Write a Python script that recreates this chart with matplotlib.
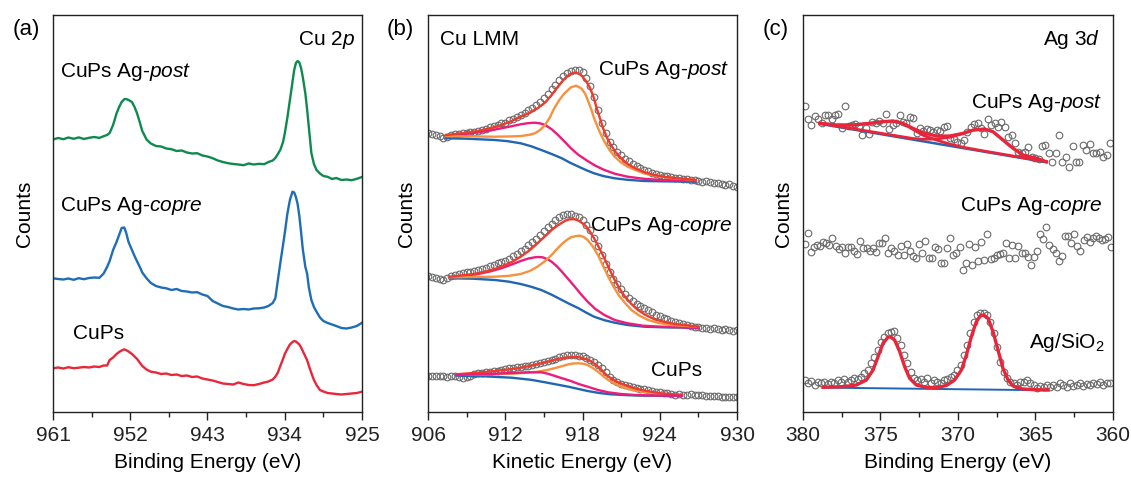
import numpy as np
import matplotlib
matplotlib.use('Agg')
import matplotlib.pyplot as plt

plt.rcParams['font.family'] = 'Liberation Sans'
plt.rcParams['mathtext.fontset'] = 'custom'
plt.rcParams['mathtext.rm'] = 'Liberation Sans'
plt.rcParams['mathtext.it'] = 'Liberation Sans:italic'

# ---- (a) Cu 2p, stacked spectra (arb. counts incl. offset) ----
be_cu = [961.0, 960.4, 959.8, 959.2, 958.6, 958.0, 957.4, 956.8, 956.2, 955.6,
         955.1, 954.7, 954.4, 954.0, 953.6, 953.3, 953.0, 952.7, 952.5, 952.2,
         951.8, 951.5, 951.2, 950.9, 950.6, 950.1, 949.6, 949.0, 948.4, 947.8,
         947.2, 946.6, 946.0, 945.4, 944.8, 944.2, 943.6, 943.0, 942.4, 941.8,
         941.2, 940.6, 940.0, 939.4, 938.8, 938.2, 937.6, 937.0, 936.4, 935.9,
         935.4, 935.1, 934.8, 934.5, 934.2, 934.0, 933.7, 933.4, 933.1, 932.9,
         932.7, 932.5, 932.3, 932.1, 931.9, 931.6, 931.4, 931.2, 930.9, 930.6,
         930.3, 929.9, 929.5, 929.0, 928.5, 928.0, 927.4, 926.8, 926.2, 925.6,
         925.0]
cu2p_post = [272.5, 274.0, 272.8, 274.5, 273.2, 274.6, 273.0, 274.2, 275.0, 274.1,
             275.8, 277.0, 279.0, 287.0, 298.5, 305.0, 310.0, 312.8, 313.0, 312.0,
             310.0, 305.0, 298.5, 290.0, 281.0, 272.5, 268.5, 266.0, 265.5, 263.5,
             262.8, 261.0, 261.5, 259.5, 258.5, 258.8, 256.5, 255.5, 253.8, 251.5,
             250.0, 248.8, 248.0, 247.5, 246.8, 248.5, 247.5, 248.2, 247.8, 250.0,
             251.5, 254.0, 258.0, 262.5, 270.0, 278.5, 294.0, 312.0, 330.0, 342.0,
             349.0, 351.0, 349.5, 344.0, 335.0, 318.5, 303.0, 285.5, 259.0, 248.0,
             242.0, 238.5, 236.0, 235.2, 233.0, 234.0, 232.0, 232.5, 231.8, 233.2,
             235.0]
cu2p_copre = [133.7, 133.0, 132.5, 133.5, 132.2, 133.8, 132.8, 134.0, 134.5, 134.2,
              138.5, 145.0, 151.0, 162.0, 170.0, 177.0, 184.0, 184.5, 180.0, 170.0,
              162.0, 156.0, 150.5, 145.3, 139.5, 133.7, 129.0, 126.0, 124.5, 123.7,
              122.0, 123.0, 121.0, 120.5, 119.5, 119.8, 117.5, 116.0, 111.0, 108.5,
              106.0, 105.0, 103.5, 102.5, 103.0, 102.5, 103.5, 103.7, 104.5, 106.0,
              109.0, 113.7, 132.0, 150.0, 167.0, 178.7, 198.0, 212.0, 220.3, 219.5,
              215.0, 208.0, 196.0, 180.0, 163.0, 145.0, 138.7, 125.0, 112.0, 105.0,
              100.3, 94.5, 91.0, 89.0, 87.5, 86.0, 84.0, 83.5, 84.5, 86.0,
              89.3]
cu2p_cups = [43.7, 44.5, 43.5, 44.8, 43.8, 44.3, 45.0, 44.5, 45.5, 45.0,
             46.5, 46.5, 52.0, 54.5, 58.0, 60.0, 61.5, 62.7, 62.0, 60.5,
             58.0, 55.5, 53.0, 49.5, 46.0, 42.5, 40.3, 39.5, 38.0, 38.5,
             37.0, 37.5, 36.0, 36.5, 35.0, 35.5, 33.5, 32.5, 31.5, 30.0,
             28.5, 28.0, 27.5, 29.5, 28.0, 27.0, 26.8, 28.0, 29.5, 30.5,
             32.5, 35.3, 39.5, 46.5, 53.0, 58.0, 63.0, 67.5, 70.0, 71.0,
             70.5, 69.0, 67.5, 64.5, 61.0, 55.5, 52.0, 46.5, 39.0, 32.0,
             27.0, 22.0, 20.5, 19.0, 18.5, 18.0, 17.5, 18.0, 18.5, 19.0,
             20.3]

# ---- (b) Cu LMM, raw data on a 0.3 eV kinetic energy grid ----
lmm_post = [279.5, 278.5, 277.0, 276.5, 274.5, 275.5, 277.0, 278.5, 278.0, 279.5,
            279.0, 280.5, 280.0, 281.5, 282.5, 283.5, 285.5, 286.0, 287.5, 289.0,
            289.5, 292.0, 293.5, 295.0, 297.5, 299.5, 302.0, 304.5, 307.0, 310.0,
            314.0, 318.5, 323.0, 327.5, 332.0, 336.0, 339.0, 341.0, 342.5, 342.0,
            340.0, 334.5, 326.0, 315.0, 302.0, 289.0, 279.0, 270.5, 265.0, 260.5,
            257.0, 253.5, 251.0, 248.5, 246.5, 244.0, 242.5, 241.0, 239.0, 238.5,
            237.5, 236.0, 236.5, 235.0, 234.5, 234.0, 233.0, 233.5, 232.5, 232.0,
            231.5, 230.5, 231.0, 230.0, 229.5, 229.0, 228.5, 227.5, 228.0, 226.0,
            225.5]
lmm_copre = [136.0, 135.0, 134.5, 133.0, 132.0, 134.5, 136.0, 137.0, 138.5, 139.0,
             140.0, 140.5, 141.5, 142.5, 143.0, 144.5, 146.0, 147.5, 149.0, 150.0,
             151.5, 153.5, 156.0, 158.5, 161.0, 163.5, 167.0, 170.0, 173.5, 177.5,
             181.5, 185.0, 188.5, 192.0, 195.0, 197.0, 198.5, 198.0, 196.5, 195.5,
             192.0, 187.5, 182.0, 174.5, 166.0, 157.0, 148.5, 140.5, 133.5, 128.5,
             123.5, 118.5, 114.5, 111.0, 108.0, 106.0, 104.0, 102.0, 100.0, 97.5,
             96.0, 94.5, 93.0, 91.5, 90.5, 89.0, 88.0, 87.5, 86.0, 85.5,
             85.0, 84.5, 84.0, 83.5, 84.0, 83.0, 82.5, 83.0, 82.0, 81.5,
             82.0]
lmm_cups = [36.5, 36.0, 36.5, 36.0, 36.5, 35.5, 36.0, 36.0, 35.5, 34.5,
            35.5, 36.5, 38.0, 39.0, 39.5, 40.0, 40.5, 41.0, 41.5, 42.5,
            43.0, 44.0, 44.5, 45.0, 45.5, 46.0, 46.5, 47.5, 48.0, 49.0,
            50.0, 51.0, 52.5, 53.5, 55.0, 56.0, 57.0, 57.5, 57.0, 56.5,
            56.0, 54.5, 52.5, 50.5, 47.5, 44.0, 40.0, 35.0, 32.0, 30.0,
            28.5, 27.5, 26.0, 25.0, 24.0, 23.5, 23.0, 22.0, 21.5, 20.5,
            20.0, 19.5, 19.0, 18.0, 17.5, 18.0, 17.5, 17.5, 18.0, 17.0,
            17.0, 17.5, 16.5, 16.0, 16.5, 16.0, 15.5, 15.0, 15.5, 15.0,
            15.5]
ke = np.linspace(906, 930, len(lmm_post))

# fitted curves: (energy, counts) pairs
post_bg_x = [907.4, 909.0, 911.2, 912.2, 913.2, 914.0, 914.8, 915.6, 916.4, 917.0,
             917.7, 918.3, 918.9, 919.6, 920.5, 921.5, 922.8, 924.5, 926.8]
post_bg_y = [273.7, 273.3, 272.0, 270.8, 268.7, 265.8, 262.0, 258.0, 253.7, 249.5,
             245.3, 241.8, 238.7, 236.0, 233.7, 232.2, 231.0, 230.6, 230.3]
post_cu1_x = [907.4, 908.7, 909.9, 910.8, 911.7, 912.5, 913.2, 913.8, 914.3, 914.7,
              915.1, 915.6, 916.1, 916.6, 917.1, 917.7, 918.4, 919.0, 919.7, 920.5,
              921.5, 922.7, 924.1, 926.8]
post_cu1_y = [276.0, 277.5, 279.7, 281.5, 283.7, 285.8, 287.7, 288.9, 289.3, 288.7,
              287.0, 282.8, 277.0, 270.5, 263.7, 257.0, 251.0, 246.3, 242.0, 238.3,
              235.3, 233.3, 232.0, 231.0]
post_cu0_x = [907.4, 909.5, 911.2, 912.5, 913.2, 913.8, 914.3, 914.7, 915.1, 915.5,
              915.8, 916.2, 916.6, 917.1, 917.5, 917.9, 918.2, 918.4, 918.7, 918.9,
              919.3, 919.7, 920.1, 920.5, 921.0, 921.5, 922.2, 922.8, 923.7, 924.6,
              926.8]
post_cu0_y = [276.0, 275.6, 275.3, 275.6, 276.0, 277.0, 278.7, 282.0, 287.0, 295.5,
              303.7, 312.0, 318.7, 324.7, 326.3, 323.7, 318.5, 312.0, 302.0, 293.7,
              281.0, 270.3, 262.0, 255.3, 249.5, 245.3, 241.5, 238.7, 236.2, 234.3,
              232.0]
post_env_x = [907.4, 908.7, 909.9, 910.8, 911.7, 912.5, 913.2, 913.9, 914.5, 915.1,
              915.6, 916.0, 916.4, 916.7, 917.0, 917.3, 917.5, 917.8, 918.0, 918.3,
              918.6, 918.9, 919.1, 919.4, 919.6, 919.9, 920.2, 920.6, 921.0, 921.5,
              922.1, 922.8, 923.6, 924.5, 925.4, 926.8]
post_env_y = [277.0, 278.8, 281.0, 283.7, 287.0, 291.0, 295.3, 299.3, 303.7, 309.5,
              317.0, 323.8, 330.3, 334.5, 337.7, 339.2, 339.3, 337.8, 335.3, 330.5,
              323.7, 313.5, 303.7, 292.0, 283.7, 274.5, 267.0, 259.5, 253.7, 248.0,
              243.7, 239.8, 237.0, 235.0, 233.7, 232.0]

copre_bg_x = [907.7, 909.5, 911.2, 912.3, 913.2, 914.0, 914.8, 915.6, 916.4, 917.0,
              917.7, 918.3, 918.9, 919.7, 920.5, 921.5, 922.8, 924.5, 927.0]
copre_bg_y = [133.7, 133.3, 132.0, 130.3, 128.0, 125.3, 122.0, 117.3, 112.0, 108.0,
              103.7, 99.3, 95.3, 91.8, 89.3, 87.0, 85.3, 84.6, 84.3]
copre_cu1_x = [907.7, 908.8, 909.9, 910.8, 911.7, 912.5, 913.2, 913.8, 914.3, 914.6,
               914.9, 915.3, 915.6, 916.0, 916.4, 916.9, 917.4, 917.9, 918.4, 919.0,
               919.7, 920.5, 921.5, 922.7, 924.1, 927.0]
copre_cu1_y = [134.7, 136.0, 138.0, 140.5, 143.7, 147.5, 151.0, 153.5, 154.7, 155.0,
               154.7, 152.8, 150.3, 145.8, 140.3, 132.8, 125.3, 117.5, 110.3, 103.0,
               97.0, 92.0, 88.7, 86.3, 85.3, 84.3]
copre_cu0_x = [907.7, 909.5, 911.2, 912.3, 913.2, 913.9, 914.5, 915.1, 915.6, 916.0,
               916.4, 916.8, 917.1, 917.5, 917.8, 918.1, 918.4, 918.8, 919.2, 919.6,
               920.0, 920.4, 920.8, 921.3, 921.8, 922.4, 923.1, 923.9, 924.9, 927.0]
copre_cu0_y = [134.7, 135.0, 135.3, 136.2, 138.0, 141.0, 145.3, 151.0, 157.0, 162.8,
               168.0, 172.3, 174.7, 176.0, 176.3, 175.0, 172.0, 165.5, 157.0, 146.0,
               135.3, 125.5, 117.0, 109.0, 102.0, 96.5, 92.0, 89.0, 87.0, 85.3]
copre_env_x = [907.7, 908.8, 909.9, 910.8, 911.7, 912.5, 913.2, 913.9, 914.5, 915.1,
               915.6, 916.0, 916.4, 916.7, 917.0, 917.4, 917.7, 918.0, 918.3, 918.6,
               918.9, 919.3, 919.7, 920.1, 920.5, 920.9, 921.3, 921.8, 922.3, 922.9,
               923.6, 924.4, 925.2, 927.0]
copre_env_y = [135.3, 136.8, 138.7, 141.5, 145.3, 150.0, 155.3, 161.8, 168.7, 175.8,
               182.0, 186.0, 189.3, 191.5, 192.7, 192.8, 191.3, 188.8, 185.3, 180.0,
               173.7, 164.0, 153.7, 142.5, 132.0, 123.0, 115.3, 108.0, 102.0, 97.0,
               92.7, 90.0, 88.0, 85.3]

cups_bg_x = [908.2, 910.5, 912.5, 914.0, 915.1, 916.0, 916.9, 917.7, 918.4, 919.3,
             920.2, 921.5, 922.8, 925.7]
cups_bg_y = [36.3, 35.6, 34.3, 32.2, 29.7, 27.5, 25.3, 23.0, 21.0, 19.0,
             17.7, 16.8, 16.3, 16.3]
cups_cu1_x = [908.2, 911.2, 913.0, 913.8, 914.8, 915.3, 915.8, 916.4, 917.1, 917.7,
              918.4, 919.2, 920.0, 921.0, 922.1, 923.5, 925.7]
cups_cu1_y = [37.0, 38.3, 39.3, 39.7, 39.7, 38.3, 36.3, 33.8, 31.0, 28.0,
              25.3, 22.0, 19.7, 18.0, 17.0, 16.5, 16.3]
cups_cu0_x = [908.2, 910.5, 912.5, 913.6, 914.5, 915.2, 915.8, 916.4, 916.9, 917.3,
              917.7, 918.1, 918.4, 918.8, 919.2, 919.6, 920.0, 920.5, 921.0, 921.8,
              922.6, 923.3, 924.1, 925.7]
cups_cu0_y = [37.0, 37.6, 38.3, 39.2, 40.3, 41.8, 43.7, 45.8, 47.7, 48.5,
              48.7, 48.2, 47.0, 44.0, 40.3, 36.0, 32.0, 28.5, 25.3, 22.3,
              20.3, 19.0, 18.0, 17.0]
cups_env_x = [908.2, 909.8, 911.2, 912.3, 913.2, 914.0, 914.8, 915.5, 916.1, 916.6,
              917.1, 917.5, 917.9, 918.3, 918.7, 919.1, 919.5, 919.8, 920.2, 920.7,
              921.3, 921.9, 922.6, 923.3, 924.1, 925.7]
cups_env_y = [37.7, 39.3, 41.0, 42.7, 44.3, 46.3, 48.7, 51.0, 53.0, 54.3,
              55.0, 55.0, 54.3, 52.8, 50.3, 46.5, 42.0, 37.8, 33.7, 30.0,
              27.0, 24.3, 22.0, 20.3, 18.7, 17.0]

# ---- (c) Ag 3d ----
ag_post = [306.0, 292.7, 287.0, 296.0, 292.7, 288.7, 297.0, 297.0, 292.7, 297.0,
           298.0, 283.7, 306.0, 286.0, 287.0, 287.7, 286.0, 277.0, 283.7, 278.0,
           290.3, 288.7, 291.3, 289.3, 298.0, 282.7, 287.0, 288.7, 297.0, 290.3,
           288.7, 295.3, 293.7, 279.3, 283.7, 281.3, 282.7, 282.0, 280.3, 282.0,
           281.3, 284.7, 286.0, 273.7, 272.7, 270.3, 269.3, 272.0, 280.3, 284.7,
           288.0, 289.3, 283.7, 278.0, 292.7, 287.0, 288.7, 285.3, 290.3, 285.3,
           275.3, 277.0, 269.3, 260.3, 258.7, 260.3, 265.3, 255.3, 253.7, 252.7,
           266.0, 267.0, 258.7, 250.3, 259.3, 277.0, 250.3, 255.3, 245.3, 266.0,
           250.3, 250.3, 267.0, 262.0, 268.0, 258.7, 259.3, 260.3, 255.3, 257.0,
           269.3]
ag_copre = [168.0, 179.3, 160.3, 164.7, 167.0, 166.0, 170.3, 169.3, 167.0, 173.7,
            166.0, 162.7, 165.3, 159.3, 165.3, 165.3, 161.3, 158.0, 171.3, 163.7,
            163.7, 161.3, 163.7, 160.3, 169.3, 169.3, 173.7, 158.7, 163.7, 161.3,
            157.0, 166.0, 157.0, 168.0, 161.3, 156.0, 153.7, 168.0, 158.7, 171.3,
            153.7, 153.7, 165.3, 162.7, 149.3, 149.3, 163.7, 173.7, 157.0, 159.3,
            165.3, 142.0, 149.3, 168.0, 147.0, 165.3, 151.3, 170.3, 152.0, 178.0,
            152.7, 153.7, 157.0, 158.0, 158.7, 169.3, 153.7, 167.0, 153.7, 166.0,
            158.7, 158.7, 155.3, 147.0, 154.7, 161.3, 178.0, 172.7, 185.3, 167.0,
            162.7, 158.7, 151.3, 156.0, 176.0, 176.0, 168.7, 178.0, 166.0, 161.3,
            172.0, 174.7, 170.3, 173.7, 176.0, 173.7, 172.0, 172.7, 175.3, 164.7]
ag_sio2 = [32.0, 28.7, 31.0, 27.0, 30.3, 28.7, 30.3, 28.0, 30.3, 29.3,
           32.0, 30.3, 32.7, 30.3, 32.0, 33.7, 32.7, 35.3, 38.7, 42.0,
           48.7, 55.3, 62.0, 70.3, 75.3, 78.7, 80.3, 81.3, 73.7, 67.0,
           57.0, 48.7, 40.3, 33.7, 32.0, 32.7, 30.3, 33.7, 28.7, 32.0,
           30.3, 29.3, 32.0, 32.7, 34.7, 37.0, 42.0, 47.0, 57.0, 67.0,
           78.7, 90.3, 97.0, 99.3, 98.7, 97.0, 90.3, 78.7, 65.3, 50.3,
           40.3, 33.7, 30.3, 29.3, 27.0, 30.3, 30.3, 32.0, 28.7, 27.0,
           23.7, 26.0, 24.7, 27.0, 25.3, 27.0, 24.7, 28.7, 27.0, 25.3,
           28.7, 26.0, 27.0, 28.7, 26.0, 28.0, 27.0, 29.3, 28.0, 30.3,
           27.0, 28.7, 29.3]

agp_bg_x = [378.92, 364.30]
agp_bg_y = [288.2, 249.8]
agp_d52_x = [378.92, 377.85, 376.77, 375.70, 374.84, 374.19, 373.55, 372.90, 372.26,
             371.40, 370.54, 369.68, 368.28, 364.30]
agp_d52_y = [288.7, 287.0, 287.0, 288.7, 290.3, 291.0, 288.5, 282.5, 276.8,
             272.0, 268.0, 264.8, 260.9, 250.3]
agp_d32_x = [378.92, 372.90, 372.26, 371.40, 370.54, 369.68, 369.03, 368.28, 367.74,
             367.10, 366.45, 365.81, 364.95, 364.30]
agp_d32_y = [288.7, 273.5, 272.8, 273.0, 274.7, 278.3, 281.8, 283.0, 280.3,
             272.0, 263.7, 257.0, 253.7, 250.3]
agp_env_x = [378.92, 377.85, 376.77, 375.70, 374.84, 374.19, 373.55, 372.90, 372.26,
             371.40, 370.54, 369.68, 369.03, 368.28, 367.74, 367.10, 366.45, 365.81,
             364.95, 364.30]
agp_env_y = [288.7, 287.0, 287.0, 288.7, 290.3, 291.0, 288.7, 283.7, 279.3,
             276.0, 276.0, 278.7, 282.0, 283.0, 280.3, 272.0, 263.7, 257.0,
             253.7, 250.3]

ags_bg_x = [378.71, 364.19]
ags_bg_y = [24.4, 21.7]
ags_env_x = [378.71, 377.42, 376.56, 375.91, 375.48, 375.16, 374.84, 374.52, 374.37,
             374.09, 373.76, 373.44, 373.12, 372.69, 372.04, 371.40, 370.75, 370.22,
             369.78, 369.46, 369.14, 368.82, 368.56, 368.34, 368.06, 367.74, 367.42,
             367.10, 366.77, 366.45, 365.81, 364.95, 364.19]
ags_env_y = [24.7, 25.3, 27.0, 32.0, 42.0, 55.3, 68.7, 74.7, 75.3,
             72.0, 60.3, 45.3, 33.7, 27.0, 24.7, 24.4, 26.5, 32.0,
             42.0, 57.0, 75.3, 90.3, 96.3, 97.0, 93.7, 80.3, 62.0,
             43.7, 32.0, 26.0, 23.0, 22.3, 22.0]

BLUE = '#2166b3'
PINK = '#ec1c7c'
ORANGE = '#f7913f'
RED = '#ee3b2e'
AG_RED = '#e8253a'
GREY = '#6a6a6a'


def style_axis(ax, major, minor, lim):
    ax.set_xlim(*lim)
    ax.set_ylim(0, 397)
    ax.set_xticks(major)
    ax.set_xticks(minor, minor=True)
    ax.set_yticks([])
    ax.tick_params(axis='x', which='major', direction='out', length=6, width=1,
                   labelsize=15, pad=4, colors='#222222')
    ax.tick_params(axis='x', which='minor', direction='out', length=3.5, width=1,
                   colors='#222222')
    for s in ax.spines.values():
        s.set_linewidth(1)
        s.set_color('#222222')


def data_points(ax, x, y):
    ax.plot(x, y, 'o', ms=4.8, mfc='none', mec=GREY, mew=0.8, zorder=1)


fig = plt.figure(figsize=(11.31, 4.79), dpi=100)
ax_a = fig.add_axes([0.04686, 0.13987, 0.27321, 0.82881])
ax_b = fig.add_axes([0.37843, 0.13987, 0.27321, 0.82881])
ax_c = fig.add_axes([0.70999, 0.13987, 0.27409, 0.82881])

# (a)
ax_a.plot(be_cu, cu2p_post, color='#0e8a4f', lw=1.7)
ax_a.plot(be_cu, cu2p_copre, color='#1e6db7', lw=1.7)
ax_a.plot(be_cu, cu2p_cups, color='#e8273b', lw=1.7)
style_axis(ax_a, [961, 952, 943, 934, 925], [956.5, 947.5, 938.5, 929.5], (961, 925))
ax_a.set_xlabel('Binding Energy (eV)', fontsize=15, labelpad=6)
ax_a.set_ylabel('Counts', fontsize=15, labelpad=14)
ax_a.text(0.977, 0.924, r'Cu 2$\it{p}$', transform=ax_a.transAxes, fontsize=15, ha='right')
ax_a.text(0.023, 0.844, r'CuPs Ag-$\it{post}$', transform=ax_a.transAxes, fontsize=15)
ax_a.text(0.023, 0.507, r'CuPs Ag-$\it{copre}$', transform=ax_a.transAxes, fontsize=15)
ax_a.text(0.065, 0.183, 'CuPs', transform=ax_a.transAxes, fontsize=15)

# (b)
for raw, fits in [
        (lmm_post, [(post_bg_x, post_bg_y, BLUE), (post_cu1_x, post_cu1_y, PINK),
                    (post_cu0_x, post_cu0_y, ORANGE), (post_env_x, post_env_y, RED)]),
        (lmm_copre, [(copre_bg_x, copre_bg_y, BLUE), (copre_cu1_x, copre_cu1_y, PINK),
                     (copre_cu0_x, copre_cu0_y, ORANGE), (copre_env_x, copre_env_y, RED)]),
        (lmm_cups, [(cups_bg_x, cups_bg_y, BLUE), (cups_cu0_x, cups_cu0_y, ORANGE),
                    (cups_env_x, cups_env_y, RED), (cups_cu1_x, cups_cu1_y, PINK)])]:
    data_points(ax_b, ke, raw)
    for fx, fy, c in fits:
        ax_b.plot(fx, fy, color=c, lw=1.7, zorder=3)
style_axis(ax_b, [906, 912, 918, 924, 930], [909, 915, 921, 927], (906, 930))
ax_b.set_xlabel('Kinetic Energy (eV)', fontsize=15, labelpad=6)
ax_b.set_ylabel('Counts', fontsize=15, labelpad=9)
ax_b.text(0.039, 0.924, 'Cu LMM', transform=ax_b.transAxes, fontsize=15)
ax_b.text(0.977, 0.849, r'CuPs Ag-$\it{post}$', transform=ax_b.transAxes, fontsize=15, ha='right')
ax_b.text(0.987, 0.457, r'CuPs Ag-$\it{copre}$', transform=ax_b.transAxes, fontsize=15, ha='right')
ax_b.text(0.721, 0.091, 'CuPs', transform=ax_b.transAxes, fontsize=15)

# (c)
data_points(ax_c, np.linspace(379.9, 360.2, len(ag_post)), ag_post)
data_points(ax_c, np.linspace(379.9, 360.1, len(ag_copre)), ag_copre)
data_points(ax_c, np.linspace(379.9, 360.2, len(ag_sio2)), ag_sio2)
ax_c.plot(agp_bg_x, agp_bg_y, color=BLUE, lw=1.8, zorder=3)
ax_c.plot(agp_d52_x, agp_d52_y, color=AG_RED, lw=2.0, zorder=3)
ax_c.plot(agp_d32_x, agp_d32_y, color=AG_RED, lw=2.0, zorder=3)
ax_c.plot(agp_env_x, agp_env_y, color=AG_RED, lw=2.3, zorder=3)
ax_c.plot(ags_bg_x, ags_bg_y, color=BLUE, lw=1.4, zorder=3)
ax_c.plot(ags_env_x, ags_env_y, color=AG_RED, lw=2.4, zorder=3)
style_axis(ax_c, [380, 375, 370, 365, 360], [377.5, 372.5, 367.5, 362.5], (380, 360))
ax_c.set_xlabel('Binding Energy (eV)', fontsize=15, labelpad=6)
ax_c.set_ylabel('Counts', fontsize=15, labelpad=7)
ax_c.text(0.958, 0.924, r'Ag 3$\it{d}$', transform=ax_c.transAxes, fontsize=15, ha='right')
ax_c.text(0.965, 0.765, r'CuPs Ag-$\it{post}$', transform=ax_c.transAxes, fontsize=15, ha='right')
ax_c.text(0.968, 0.507, r'CuPs Ag-$\it{copre}$', transform=ax_c.transAxes, fontsize=15, ha='right')
ax_c.text(0.974, 0.160, r'Ag/SiO$_2$', transform=ax_c.transAxes, fontsize=15, ha='right')

# panel letters
fig.text(0.0115, 0.927, '(a)', fontsize=16)
fig.text(0.342, 0.927, '(b)', fontsize=16)
fig.text(0.674, 0.927, '(c)', fontsize=16)

fig.savefig('out.png', dpi=100)
